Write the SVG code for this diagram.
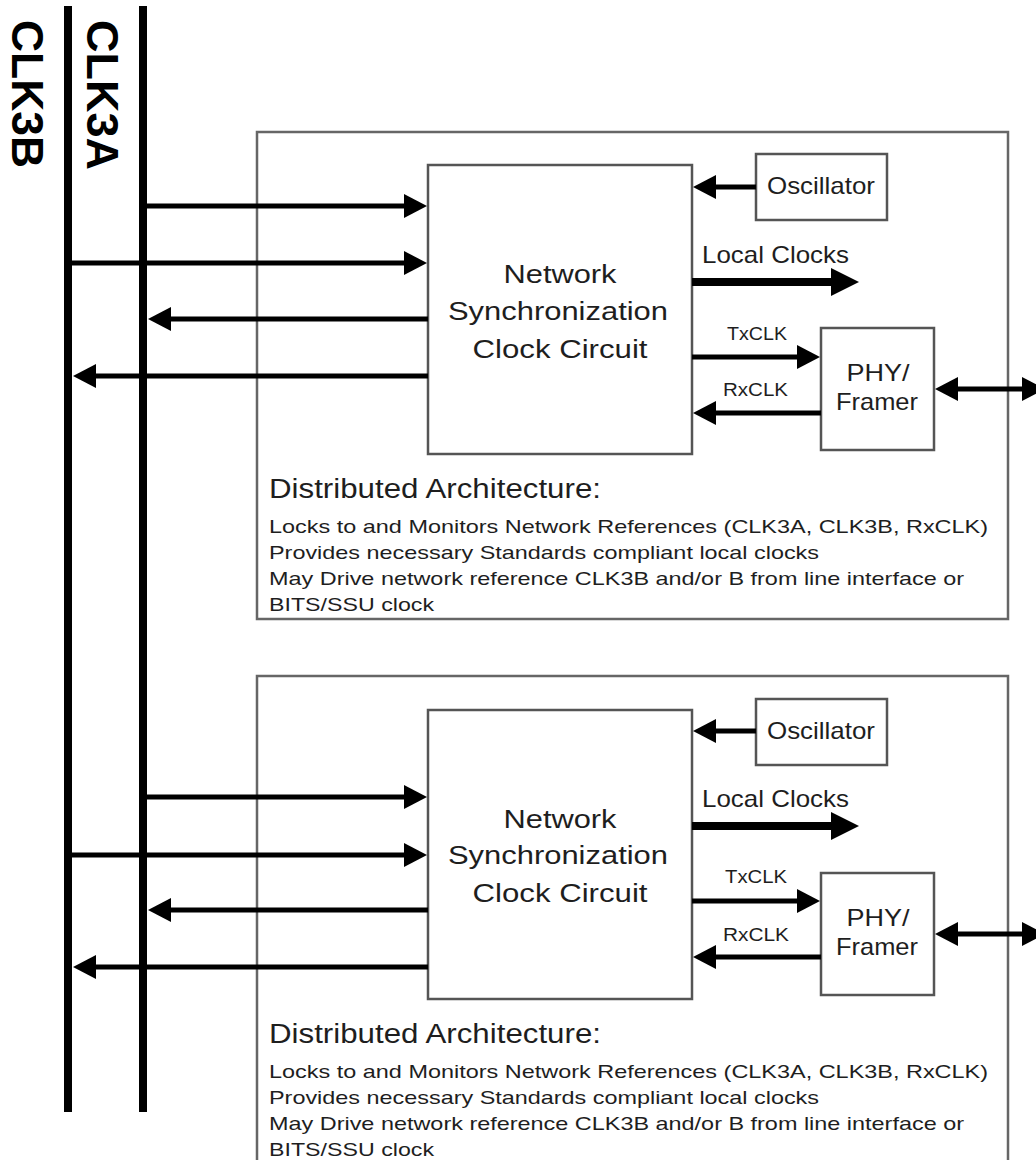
<svg xmlns="http://www.w3.org/2000/svg" width="1036" height="1160" viewBox="0 0 1036 1160">
<style>
  .bus { stroke: #000; stroke-width: 8; fill: none; }
  .outer { fill: none; stroke: #666; stroke-width: 2.5; }
  .box { fill: #fff; stroke: #555; stroke-width: 2.5; }
  .conn { stroke: #000; stroke-width: 5; fill: none; }
  .thick { stroke: #000; stroke-width: 8; fill: none; }
  text { font-family: "Liberation Sans", Arial, Helvetica, sans-serif; fill: #1e1e1e; }
  .buslbl { font-size: 45px; font-weight: bold; fill: #000; }
  .main { font-size: 26px; text-anchor: middle; }
  .lbl { font-size: 24px; }
  .small { font-size: 19px; }
  .mid { text-anchor: middle; }
  .title { font-size: 27px; }
  .desc { font-size: 19px; }
</style>
<defs>
  <marker id="ah" viewBox="0 0 23 24" markerWidth="23" markerHeight="24" refX="1" refY="12" orient="auto" markerUnits="userSpaceOnUse">
    <path d="M0,0 L23,12 L0,24 z" fill="#000"/>
  </marker>
  <marker id="ahs" viewBox="0 0 23 24" markerWidth="23" markerHeight="24" refX="1" refY="12" orient="auto-start-reverse" markerUnits="userSpaceOnUse">
    <path d="M0,0 L23,12 L0,24 z" fill="#000"/>
  </marker>
  <marker id="ahBig" viewBox="0 0 28 28" markerWidth="28" markerHeight="28" refX="1" refY="14" orient="auto" markerUnits="userSpaceOnUse">
    <path d="M0,0 L28,14 L0,28 z" fill="#000"/>
  </marker>
</defs>
<rect width="1036" height="1160" fill="#fff"/>

<!-- Buses -->
<g id="bus-clk3b">
  <line class="bus" x1="68" y1="6" x2="68" y2="1112"/>
  <text class="buslbl" transform="translate(12,20) rotate(90)" textLength="148" lengthAdjust="spacingAndGlyphs">CLK3B</text>
</g>
<g id="bus-clk3a">
  <line class="bus" x1="143" y1="6" x2="143" y2="1112"/>
  <text class="buslbl" transform="translate(87,20) rotate(90)" textLength="150" lengthAdjust="spacingAndGlyphs">CLK3A</text>
</g>

<!-- Block 1 -->
<g id="board1">
  <rect class="outer" x="257" y="132" width="751" height="487"/>
  <text class="title" x="269" y="498" textLength="332" lengthAdjust="spacingAndGlyphs">Distributed Architecture:</text>
  <text class="desc" x="269" y="533" textLength="719" lengthAdjust="spacingAndGlyphs">Locks to and Monitors Network References (CLK3A, CLK3B, RxCLK)</text>
  <text class="desc" x="269" y="559" textLength="550" lengthAdjust="spacingAndGlyphs">Provides necessary Standards compliant local clocks</text>
  <text class="desc" x="269" y="585" textLength="695" lengthAdjust="spacingAndGlyphs">May Drive network reference CLK3B and/or B from line interface or</text>
  <text class="desc" x="269" y="611" textLength="165" lengthAdjust="spacingAndGlyphs">BITS/SSU clock</text>
</g>
<g id="nscc1">
  <rect class="box" x="428" y="165" width="264" height="289"/>
  <text class="main" x="560" y="283" textLength="113" lengthAdjust="spacingAndGlyphs">Network</text>
  <text class="main" x="558" y="320" textLength="220" lengthAdjust="spacingAndGlyphs">Synchronization</text>
  <text class="main" x="560" y="358" textLength="175" lengthAdjust="spacingAndGlyphs">Clock Circuit</text>
</g>
<g id="osc1">
  <rect class="box" x="756" y="154" width="131" height="66"/>
  <text class="lbl mid" x="821" y="194" font-size="25" textLength="108" lengthAdjust="spacingAndGlyphs">Oscillator</text>
</g>
<g id="phy1">
  <rect class="box" x="821" y="328" width="113" height="122"/>
  <text class="lbl mid" x="878" y="381" font-size="23" textLength="63" lengthAdjust="spacingAndGlyphs">PHY/</text>
  <text class="lbl mid" x="877" y="410" font-size="23" textLength="82" lengthAdjust="spacingAndGlyphs">Framer</text>
</g>

<!-- Block 2 -->
<g id="board2" transform="translate(0,545)">
  <rect class="outer" x="257" y="131" width="751" height="500"/>
  <text class="title" x="269" y="498" textLength="332" lengthAdjust="spacingAndGlyphs">Distributed Architecture:</text>
  <text class="desc" x="269" y="533" textLength="719" lengthAdjust="spacingAndGlyphs">Locks to and Monitors Network References (CLK3A, CLK3B, RxCLK)</text>
  <text class="desc" x="269" y="559" textLength="550" lengthAdjust="spacingAndGlyphs">Provides necessary Standards compliant local clocks</text>
  <text class="desc" x="269" y="585" textLength="695" lengthAdjust="spacingAndGlyphs">May Drive network reference CLK3B and/or B from line interface or</text>
  <text class="desc" x="269" y="611" textLength="165" lengthAdjust="spacingAndGlyphs">BITS/SSU clock</text>
</g>
<g id="nscc2" transform="translate(0,545)">
  <rect class="box" x="428" y="165" width="264" height="289"/>
  <text class="main" x="560" y="283" textLength="113" lengthAdjust="spacingAndGlyphs">Network</text>
  <text class="main" x="558" y="319" textLength="220" lengthAdjust="spacingAndGlyphs">Synchronization</text>
  <text class="main" x="560" y="357" textLength="175" lengthAdjust="spacingAndGlyphs">Clock Circuit</text>
</g>
<g id="osc2" transform="translate(0,545)">
  <rect class="box" x="756" y="154" width="131" height="66"/>
  <text class="lbl mid" x="821" y="194" font-size="25" textLength="108" lengthAdjust="spacingAndGlyphs">Oscillator</text>
</g>
<g id="phy2" transform="translate(0,545)">
  <rect class="box" x="821" y="328" width="113" height="122"/>
  <text class="lbl mid" x="878" y="381" font-size="23" textLength="63" lengthAdjust="spacingAndGlyphs">PHY/</text>
  <text class="lbl mid" x="877" y="410" font-size="23" textLength="82" lengthAdjust="spacingAndGlyphs">Framer</text>
</g>

<!-- Connectors -->
<g id="connectors">
  <!-- block 1 -->
  <line class="conn" x1="143" y1="206" x2="405" y2="206" marker-end="url(#ah)"/>
  <line class="conn" x1="68" y1="263" x2="405" y2="263" marker-end="url(#ah)"/>
  <line class="conn" x1="428" y1="319" x2="170" y2="319" marker-end="url(#ah)"/>
  <line class="conn" x1="428" y1="376" x2="95" y2="376" marker-end="url(#ah)"/>
  <line class="conn" x1="756" y1="187" x2="715" y2="187" marker-end="url(#ah)"/>
  <line class="thick" x1="692" y1="282" x2="832" y2="282" marker-end="url(#ahBig)"/>
  <text class="lbl" x="702" y="263" textLength="147" lengthAdjust="spacingAndGlyphs">Local Clocks</text>
  <line class="conn" x1="692" y1="357" x2="798" y2="357" marker-end="url(#ah)"/>
  <text class="small" x="727" y="340" textLength="60" lengthAdjust="spacingAndGlyphs">TxCLK</text>
  <line class="conn" x1="821" y1="413" x2="715" y2="413" marker-end="url(#ah)"/>
  <text class="small" x="723" y="396" textLength="65" lengthAdjust="spacingAndGlyphs">RxCLK</text>
  <line class="conn" x1="957" y1="389" x2="1023" y2="389" marker-start="url(#ahs)" marker-end="url(#ah)"/>
  <!-- block 2 -->
  <line class="conn" x1="143" y1="797" x2="405" y2="797" marker-end="url(#ah)"/>
  <line class="conn" x1="68" y1="855" x2="405" y2="855" marker-end="url(#ah)"/>
  <line class="conn" x1="428" y1="910" x2="170" y2="910" marker-end="url(#ah)"/>
  <line class="conn" x1="428" y1="967" x2="95" y2="967" marker-end="url(#ah)"/>
  <line class="conn" x1="756" y1="731" x2="715" y2="731" marker-end="url(#ah)"/>
  <line class="thick" x1="692" y1="826" x2="832" y2="826" marker-end="url(#ahBig)"/>
  <text class="lbl" x="702" y="807" textLength="147" lengthAdjust="spacingAndGlyphs">Local Clocks</text>
  <line class="conn" x1="692" y1="901" x2="798" y2="901" marker-end="url(#ah)"/>
  <text class="small" x="725" y="883" textLength="62" lengthAdjust="spacingAndGlyphs">TxCLK</text>
  <line class="conn" x1="821" y1="957" x2="715" y2="957" marker-end="url(#ah)"/>
  <text class="small" x="723" y="941" textLength="66" lengthAdjust="spacingAndGlyphs">RxCLK</text>
  <line class="conn" x1="957" y1="934" x2="1023" y2="934" marker-start="url(#ahs)" marker-end="url(#ah)"/>
</g>
</svg>
